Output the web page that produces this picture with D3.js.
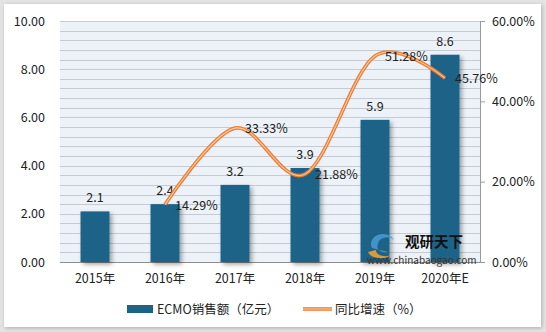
<!DOCTYPE html>
<html><head><meta charset="utf-8">
<script src="https://cdn.jsdelivr.net/npm/d3@7/dist/d3.min.js"></script>
<style>
body{margin:0;background:#e4e4e4;}
svg{display:block;}
text{font-family:"Microsoft YaHei","Noto Sans CJK SC","Open Sans",sans-serif;fill:#222;}
</style></head><body>
<svg id="c" width="546" height="332"></svg>
<script>
const categories = ["2015年","2016年","2017年","2018年","2019年","2020年E"];
const sales = [2.1, 2.4, 3.2, 3.9, 5.9, 8.6];
const growth = [null, 14.29, 33.33, 21.88, 51.28, 45.76];
const leftTicks = [0, 2, 4, 6, 8, 10];
const rightTicks = [0, 20, 40, 60];
const seriesNames = ["ECMO销售额（亿元）", "同比增速（%）"];

const svg = d3.select("#c");
const defs = svg.append("defs");
const f = defs.append("filter").attr("id","sh").attr("x","-20%").attr("y","-20%").attr("width","150%").attr("height","150%");
f.append("feDropShadow").attr("dx",2.5).attr("dy",2.5).attr("stdDeviation",2).attr("flood-color","#000").attr("flood-opacity",0.35);
const fb = defs.append("filter").attr("id","fr").attr("x","-5%").attr("y","-5%").attr("width","110%").attr("height","110%");
fb.append("feDropShadow").attr("dx",1).attr("dy",1).attr("stdDeviation",2).attr("flood-color","#000").attr("flood-opacity",0.25);

svg.append("rect").attr("x",4).attr("y",4).attr("width",537).attr("height",323).attr("fill","#fff").attr("filter","url(#fr)");

const L = 60, R = 480, T = 21, B = 262;
const x = d3.scaleBand().domain(categories).range([L, R]).paddingInner(0.586).paddingOuter(0.293);
const yL = d3.scaleLinear().domain([0, 10]).range([B, T]);
const yR = d3.scaleLinear().domain([0, 60]).range([B, T]);

svg.append("rect").attr("x",L).attr("y",T).attr("width",R-L).attr("height",B-T).attr("fill","#ECF2F8");
const gridVals = d3.range(0, 10.0001, 0.4);
svg.append("g").selectAll("line").data(gridVals).join("line")
  .attr("x1",L).attr("x2",R).attr("y1",d=>Math.round(yL(d))+0.5).attr("y2",d=>Math.round(yL(d))+0.5)
  .attr("stroke","#C5CBD2").attr("stroke-width",1);

// left axis
const gl = svg.append("g").attr("transform",`translate(${L},0)`)
  .call(d3.axisLeft(yL).tickValues(leftTicks).tickFormat(d3.format(".2f")).tickSize(0).tickPadding(15));
gl.select(".domain").remove();
gl.selectAll("text").attr("font-size",12.5).style("fill","#222");

// right axis
const gr = svg.append("g").attr("transform",`translate(${R},0)`)
  .call(d3.axisRight(yR).tickValues(rightTicks).tickFormat(d=>d.toFixed(2)+"%").tickSize(5).tickPadding(7));
gr.select(".domain").attr("stroke","#9a9a9a");
gr.selectAll("line").attr("stroke","#9a9a9a");
gr.selectAll("text").attr("font-size",12.5).style("fill","#222");

// baseline
svg.append("line").attr("x1",L).attr("x2",R).attr("y1",B+0.5).attr("y2",B+0.5).attr("stroke","#8c8c8c");

// x axis labels
const gx = svg.append("g").attr("transform",`translate(0,${B})`)
  .call(d3.axisBottom(x).tickSize(0).tickPadding(12));
gx.select(".domain").remove();
gx.selectAll("text").attr("font-size",12.5).style("fill","#222");

// bars
svg.append("g").selectAll("rect").data(sales).join("rect")
  .attr("x",(d,i)=>x(categories[i])).attr("width",x.bandwidth())
  .attr("y",d=>yL(d)).attr("height",d=>B-yL(d))
  .attr("fill","#1B6487").attr("filter","url(#sh)");
svg.append("g").selectAll("text").data(sales).join("text")
  .attr("x",(d,i)=>x(categories[i])+x.bandwidth()/2).attr("y",d=>yL(d)-9)
  .attr("text-anchor","middle").attr("font-size",12.5).text(d=>d);

// watermark
const wm = svg.append("g");
wm.append("path").attr("d","M372,248 a12,10 0 0 1 22,-8 a9,7 0 0 0 -16,4 a8,6 0 0 0 10,8 z").attr("fill","#4a9bd6").attr("opacity",0.85);
wm.append("path").attr("d","M368,252 a13,8 0 0 0 24,2 a9,6 0 0 1 -16,-4 z").attr("fill","#f0a030").attr("opacity",0.9);
wm.append("text").attr("x",405).attr("y",247).attr("font-size",14.5).attr("font-weight","bold").style("fill","#111").text("观研天下");
wm.append("text").attr("x",367).attr("y",264).attr("font-size",10).attr("font-family","Arial, Liberation Sans, sans-serif").style("fill","#333").text("www.chinabaogao.com");

// line
const pts = growth.map((g,i)=>g==null?null:[x(categories[i])+x.bandwidth()/2, yR(g)]).filter(p=>p);
const lineGen = d3.line().curve(d3.curveCardinal.tension(0));
svg.append("path").attr("d",lineGen(pts)).attr("fill","none").attr("stroke","#ED7D31").attr("stroke-width",3.6);
svg.append("path").attr("d",lineGen(pts)).attr("fill","none").attr("stroke","#F7C9A4").attr("stroke-width",1.1);

svg.append("g").selectAll("text").data(growth.map((g,i)=>({g,i})).filter(d=>d.g!=null)).join("text")
  .attr("x",d=>x(categories[d.i])+x.bandwidth()/2+10).attr("y",d=>yR(d.g)+5)
  .attr("font-size",12.5).text(d=>d.g.toFixed(2)+"%");

// legend
svg.append("rect").attr("x",127).attr("y",305).attr("width",26).attr("height",8).attr("fill","#1B6487");
svg.append("text").attr("x",157).attr("y",313.5).attr("font-size",12.5).text(seriesNames[0]);
svg.append("line").attr("x1",303).attr("x2",332).attr("y1",309).attr("y2",309).attr("stroke","#ED7D31").attr("stroke-width",3.6);
svg.append("line").attr("x1",303).attr("x2",332).attr("y1",309).attr("y2",309).attr("stroke","#F7C9A4").attr("stroke-width",1.1);
svg.append("text").attr("x",335).attr("y",313.5).attr("font-size",12.5).text(seriesNames[1]);
</script>
</body></html>
